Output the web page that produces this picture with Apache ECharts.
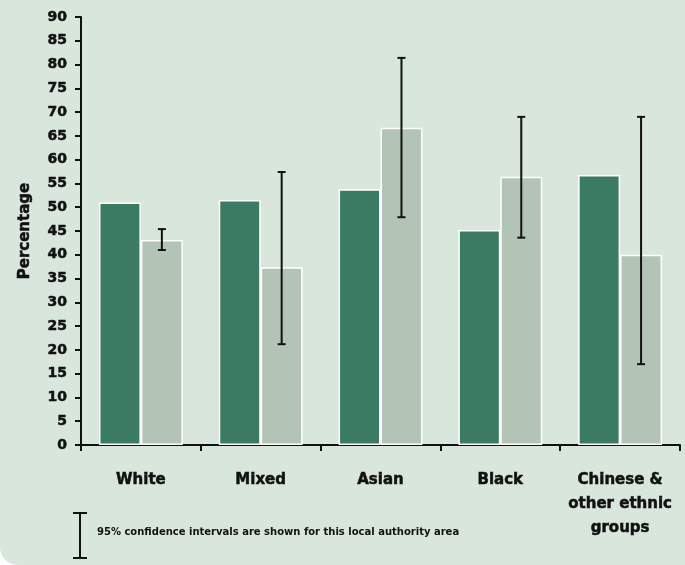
<!DOCTYPE html>
<html>
<head>
<meta charset="UTF-8">
<title>Percentage by ethnic group</title>
<style>
  html, body { margin: 0; padding: 0; background: #ffffff; }
  #main { width: 685px; height: 565px; background: #d9e6dc; border-bottom-left-radius: 18px; }
</style>
</head>
<body>
<div id="main"></div>
<script src="https://cdn.jsdelivr.net/npm/echarts@6/dist/echarts.min.js"></script>
<script>
var categories = ['White', 'Mixed', 'Asian', 'Black', 'Chinese &\nother ethnic\ngroups'];
var areaA = [51, 51.5, 53.8, 45.2, 56.8];   // dark bars
var areaB = [43.1, 37.4, 66.7, 56.4, 40];   // light bars (with CI)
var ciLow = [41, 21.2, 47.9, 43.6, 17];
var ciHigh = [45.4, 57.4, 81.4, 69, 69];
var yTicks = { min: 0, max: 90, step: 5 };

var chart = echarts.init(document.getElementById('main'));
var font = 'DejaVu Sans';
var ink = '#111';

var ciData = categories.map(function (c, i) { return [i, ciLow[i], ciHigh[i]]; });

var option = {
  backgroundColor: 'transparent',
  animation: false,
  grid: { left: 81, right: 5, top: 17, bottom: 120 },
  xAxis: {
    type: 'category',
    data: categories,
    axisLine: { lineStyle: { color: ink, width: 2 } },
    axisTick: { show: true, length: 6, lineStyle: { color: ink, width: 2 } },
    axisLabel: {
      color: ink, fontFamily: font, fontWeight: 'bold', fontSize: 15,
      textBorderColor: ink, textBorderWidth: 0.5,
      margin: 23, lineHeight: 24, interval: 0
    }
  },
  yAxis: {
    type: 'value',
    min: yTicks.min, max: yTicks.max, interval: yTicks.step,
    name: 'Percentage',
    nameLocation: 'middle',
    nameRotate: 90,
    nameGap: 48,
    nameTextStyle: {
      color: ink, fontFamily: font, fontWeight: 'bold', fontSize: 15,
      textBorderColor: ink, textBorderWidth: 0.5
    },
    axisLine: { show: true, lineStyle: { color: ink, width: 2 } },
    axisTick: { show: true, length: 6, lineStyle: { color: ink, width: 2 } },
    axisLabel: {
      color: ink, fontFamily: font, fontWeight: 'bold', fontSize: 14, margin: 14,
      textBorderColor: ink, textBorderWidth: 0.5
    },
    splitLine: { show: false }
  },
  series: [{
    name: 'Area',
    type: 'bar',
    data: areaA,
    barGap: '0%',
    barCategoryGap: '30%',
    itemStyle: { color: '#3b7b63', borderColor: '#ffffff', borderWidth: 1.5 }
  }, {
    name: 'Local authority',
    type: 'bar',
    data: areaB,
    itemStyle: { color: '#b3c3b6', borderColor: '#ffffff', borderWidth: 1.5 }
  }, {
    name: 'CI',
    type: 'custom',
    data: ciData,
    z: 10,
    renderItem: function (params, api) {
      var idx = api.value(0);
      var lo = api.coord([idx, api.value(1)]);
      var hi = api.coord([idx, api.value(2)]);
      var band = api.size([1, 0])[0];
      var x = lo[0] + band * 0.175;
      var cap = 4;
      var st = { stroke: ink, lineWidth: 2 };
      return {
        type: 'group',
        children: [
          { type: 'line', shape: { x1: x, y1: hi[1], x2: x, y2: lo[1] }, style: st },
          { type: 'line', shape: { x1: x - cap, y1: hi[1], x2: x + cap, y2: hi[1] }, style: st },
          { type: 'line', shape: { x1: x - cap, y1: lo[1], x2: x + cap, y2: lo[1] }, style: st }
        ]
      };
    }
  }],
  graphic: [
    { type: 'line', shape: { x1: 80, y1: 513, x2: 80, y2: 558 }, style: { stroke: ink, lineWidth: 2 } },
    { type: 'line', shape: { x1: 73, y1: 513, x2: 87, y2: 513 }, style: { stroke: ink, lineWidth: 2 } },
    { type: 'line', shape: { x1: 73, y1: 558, x2: 87, y2: 558 }, style: { stroke: ink, lineWidth: 2 } },
    {
      type: 'text', left: 97, top: 527,
      style: {
        text: '95% confidence intervals are shown for this local authority area',
        fill: ink, font: 'bold 10px "DejaVu Sans"'
      }
    }
  ]
};
chart.setOption(option);
</script>
</body>
</html>
